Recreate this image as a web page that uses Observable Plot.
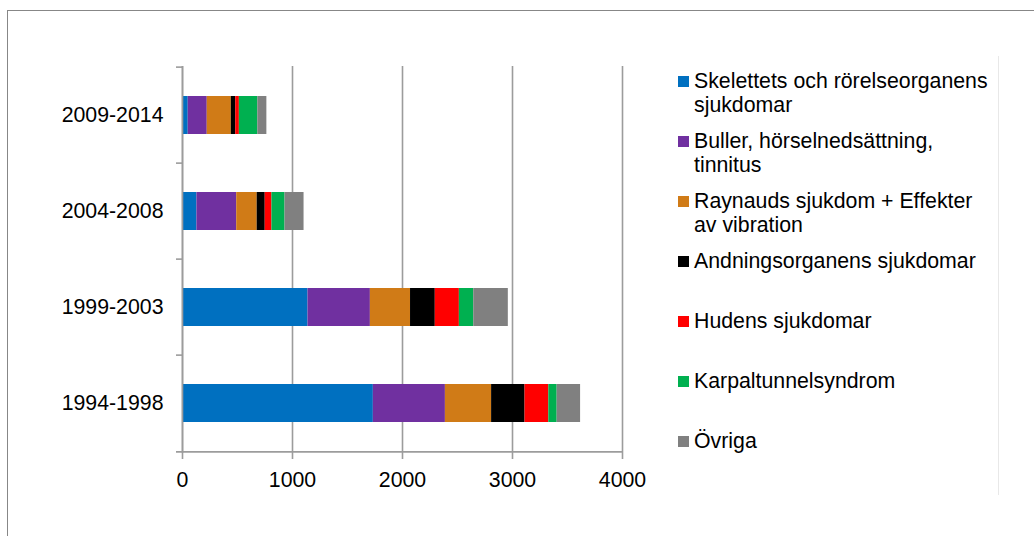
<!DOCTYPE html>
<html>
<head>
<meta charset="utf-8">
<script src="https://cdn.jsdelivr.net/npm/d3@7"></script>
<script src="https://cdn.jsdelivr.net/npm/@observablehq/plot@0.6"></script>
<style>
  html, body { margin: 0; padding: 0; background: #fff; }
  body { width: 1034px; height: 536px; position: relative; overflow: hidden; font-family: "Liberation Sans", Arial, sans-serif; }
  #frame { position: absolute; left: 7px; top: 10px; width: 1040px; height: 540px; border: 1px solid #878787; box-sizing: border-box; }
  #sep { position: absolute; left: 998px; top: 56px; height: 439px; border-left: 1px solid #e8e8e8; }
  #chart { position: absolute; left: 0; top: 0; }
  #legend { position: absolute; left: 0; top: 0; }
  .item { position: absolute; left: 678px; font-size: 21.3px; line-height: 24px; color: #000; white-space: nowrap; }
  .sw { position: absolute; left: 0; top: 7px; width: 11px; height: 11px; }
  .lab { position: absolute; left: 16px; top: 0; }
</style>
</head>
<body>
<div id="frame"></div>
<div id="sep"></div>
<div id="chart"></div>
<div id="legend"></div>
<script>
const categories = ["2009-2014", "2004-2008", "1999-2003", "1994-1998"];
const seriesNames = [
  "Skelettets och rörelseorganens sjukdomar",
  "Buller, hörselnedsättning, tinnitus",
  "Raynauds sjukdom + Effekter av vibration",
  "Andningsorganens sjukdomar",
  "Hudens sjukdomar",
  "Karpaltunnelsyndrom",
  "Övriga"
];
const legendLines = [
  ["Skelettets och rörelseorganens", "sjukdomar"],
  ["Buller, hörselnedsättning,", "tinnitus"],
  ["Raynauds sjukdom + Effekter", "av vibration"],
  ["Andningsorganens sjukdomar"],
  ["Hudens sjukdomar"],
  ["Karpaltunnelsyndrom"],
  ["Övriga"]
];
const colors = ["#0070C0", "#7030A0", "#D07B17", "#000000", "#FF0000", "#00B050", "#808080"];

// values per category (same order as categories)
const skelett = [52, 131, 1141, 1735];
const buller  = [173, 362, 567, 655];
const raynaud = [219, 186, 365, 420];
const andning = [40, 73, 225, 304];
const huden   = [33, 61, 219, 216];
const karpal  = [168, 119, 131, 76];
const ovriga  = [82, 173, 314, 213];
const xTicks = [0, 1000, 2000, 3000, 4000];

const seriesValues = [skelett, buller, raynaud, andning, huden, karpal, ovriga];
const rows = [];
seriesNames.forEach((s, si) => {
  categories.forEach((c, ci) => rows.push({cat: c, series: s, value: seriesValues[si][ci]}));
});

const W = 1034, H = 536;
const mt = 66, mb = 83, ml = 182, mr = 412;
const step = (H - mt - mb) / categories.length;
const grid = "#9c9c9c";

const chart = Plot.plot({
  width: W, height: H,
  marginTop: mt, marginBottom: mb, marginLeft: ml, marginRight: mr,
  style: {fontFamily: '"Liberation Sans", Arial, sans-serif', fontSize: "21.3px", background: "transparent", color: "#000", overflow: "visible"},
  x: {domain: [xTicks[0], xTicks[xTicks.length - 1]], ticks: xTicks, label: null},
  y: {domain: categories, paddingInner: 0.6, paddingOuter: 0.3, label: null},
  color: {domain: seriesNames, range: colors},
  marks: [
    Plot.gridX(xTicks, {stroke: grid, strokeOpacity: 1, strokeWidth: 1.6}),
    Plot.barX(rows, Plot.stackX({y: "cat", x: "value", fill: "series", order: null})),
    Plot.ruleX([xTicks[0]], {stroke: grid, strokeWidth: 1.6}),
    Plot.ruleY(categories, {y: d => d, x1: xTicks[0], x2: xTicks[0], dy: -step / 2, insetLeft: -6, stroke: grid, strokeWidth: 1.6}),
    Plot.ruleY([categories[categories.length - 1]], {y: d => d, x1: xTicks[0], x2: xTicks[xTicks.length - 1], dy: step / 2, insetLeft: -6, stroke: grid, strokeWidth: 1.6}),
    Plot.axisX(xTicks, {tickSize: 6, tickPadding: 12, stroke: grid, strokeWidth: 1.6, fill: "#000", label: null, tickFormat: d => String(d)}),
    Plot.axisY({tickSize: 0, tickPadding: 19, fill: "#000", label: null})
  ]
});
document.getElementById("chart").appendChild(chart);

const legend = document.getElementById("legend");
legendLines.forEach((lines, i) => {
  const item = document.createElement("div");
  item.className = "item";
  item.style.top = (69 + 60 * i) + "px";
  const sw = document.createElement("div");
  sw.className = "sw";
  sw.style.background = colors[i];
  const lab = document.createElement("div");
  lab.className = "lab";
  lab.innerHTML = lines.join("<br>");
  item.appendChild(sw);
  item.appendChild(lab);
  legend.appendChild(item);
});
</script>
</body>
</html>
